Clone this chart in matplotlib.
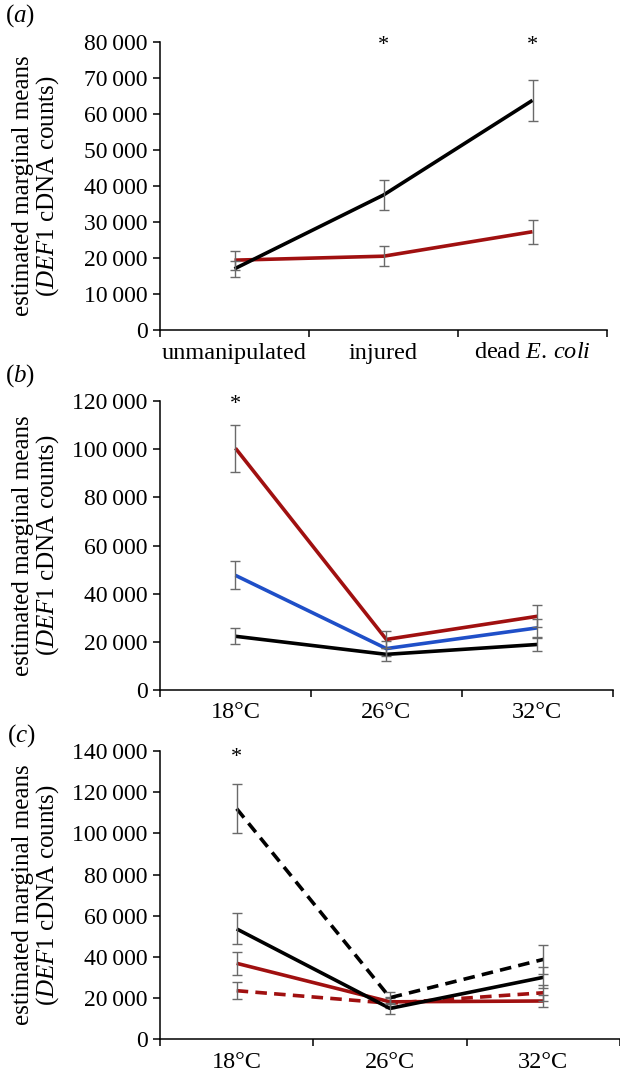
import matplotlib
matplotlib.use("Agg")
import matplotlib.pyplot as plt
from matplotlib.ticker import FixedLocator, FuncFormatter

plt.rcParams['font.family'] = ['Liberation Serif', 'DejaVu Serif']
plt.rcParams['mathtext.fontset'] = 'custom'
plt.rcParams['mathtext.rm'] = 'Liberation Serif'
plt.rcParams['mathtext.it'] = 'Liberation Serif:italic'

# ---------------- data ----------------
a_categories = ['unmanipulated', 'injured', r'dead $\mathit{E.\,coli}$']
a_black = [17000, 37500, 63800]
a_black_err = [2200, 4100, 5700]
a_red = [19400, 20500, 27300]
a_red_err = [2600, 2700, 3300]
a_stars = [1, 2]

temp_categories = ['18°C', '26°C', '32°C']
b_red = [100400, 21000, 30600]
b_red_err = [9700, 3500, 4500]
b_blue = [47600, 17200, 25800]
b_blue_err = [5800, 3000, 3800]
b_black = [22300, 14800, 18900]
b_black_err = [3400, 2700, 2800]
b_stars = [0]

c_black_dash = [112000, 20200, 38800]
c_black_dash_err = [11800, 3000, 7000]
c_black = [53600, 15000, 30100]
c_black_err = [7500, 2700, 5000]
c_red = [36900, 18200, 18600]
c_red_err = [5700, 2500, 3000]
c_red_dash = [23600, 17500, 22600]
c_red_dash_err = [4000, 2500, 4000]
c_stars = [0]

a_yticks = list(range(0, 80001, 10000))
b_yticks = list(range(0, 120001, 20000))
c_yticks = list(range(0, 140001, 20000))

# ---------------- style ----------------
RED = '#A01010'
BLUE = '#1F4FC8'
BLACK = '#000000'
ERR = '#6a6a6a'
W, H = 620, 1075

fig = plt.figure(figsize=(W / 100, H / 100), dpi=100)


def make_ax(left, right, top, bottom):
    return fig.add_axes([left / W, 1 - bottom / H, (right - left) / W, (bottom - top) / H])


def fmt(v, pos=None):
    v = int(round(v))
    if v == 0:
        return '0'
    return f"{v:,}".replace(',', '\u2009')


def style(ax, yticks, cats, left_px, right_px):
    ax.set_xlim(-0.5, 2.5)
    ax.set_ylim(0, yticks[-1])
    for s in ['top', 'right']:
        ax.spines[s].set_visible(False)
    for s in ['left', 'bottom']:
        ax.spines[s].set_linewidth(1.1)
    ax.yaxis.set_major_locator(FixedLocator(yticks))
    ax.yaxis.set_major_formatter(FuncFormatter(fmt))
    ax.tick_params(axis='y', direction='out', length=5, width=1.1, labelsize=17, pad=4)
    ax.xaxis.set_major_locator(FixedLocator([-0.5, 0.5, 1.5, 2.5]))
    ax.xaxis.set_major_formatter(FuncFormatter(lambda v, p: ''))
    ax.xaxis.set_minor_locator(FixedLocator([0, 1, 2]))
    ax.set_xticklabels(cats, minor=True)
    ax.tick_params(axis='x', which='major', direction='out', length=5, width=1.1)
    ax.tick_params(axis='x', which='minor', length=0, labelsize=17.5, pad=9)
    ax.set_ylabel('estimated marginal means\n($\\mathit{DEF1}$ cDNA counts)',
                  fontsize=18, linespacing=1.0)
    ax.yaxis.set_label_coords((61 - left_px) / (right_px - left_px), 0.5)


def series(ax, y, err, color, ls='-', z=3):
    x = [0, 1, 2]
    ax.plot(x, y, color=color, lw=2.6, ls=ls, zorder=z, solid_capstyle='butt',
            dashes=(3.2, 2.0) if ls == '--' else (None, None))
    ax.errorbar(x, y, yerr=err, fmt='none', ecolor=ERR, elinewidth=1.0,
                capsize=3.5, capthick=1.0, zorder=z + 1)


def stars(ax, idx, yval):
    for i in idx:
        ax.text(i, yval, '*', ha='center', va='center', fontsize=16)


# panel a
ax1 = make_ax(160, 607, 42, 330)
style(ax1, a_yticks, a_categories, 160, 607)
series(ax1, a_red, a_red_err, RED, z=3)
series(ax1, a_black, a_black_err, BLACK, z=5)
stars(ax1, a_stars, 79000)
fig.text(5 / W, 1 - 16 / H, r'($\mathit{a}$)', fontsize=18, va='center', ha='left')

# panel b
ax2 = make_ax(160, 612.7, 401, 690)
style(ax2, b_yticks, temp_categories, 160, 612.7)
series(ax2, b_black, b_black_err, BLACK, z=3)
series(ax2, b_blue, b_blue_err, BLUE, z=5)
series(ax2, b_red, b_red_err, RED, z=7)
stars(ax2, b_stars, 118500)
fig.text(5 / W, 1 - 376 / H, r'($\mathit{b}$)', fontsize=18, va='center', ha='left')

# panel c
ax3 = make_ax(160, 620, 751, 1039.3)
style(ax3, c_yticks, temp_categories, 160, 620)
series(ax3, c_red, c_red_err, RED, z=3)
series(ax3, c_red_dash, c_red_dash_err, RED, ls='--', z=5)
series(ax3, c_black, c_black_err, BLACK, z=7)
series(ax3, c_black_dash, c_black_dash_err, BLACK, ls='--', z=9)
stars(ax3, c_stars, 137000)
fig.text(7 / W, 1 - 736 / H, r'($\mathit{c}$)', fontsize=18, va='center', ha='left')

fig.savefig('out.png', dpi=100)
